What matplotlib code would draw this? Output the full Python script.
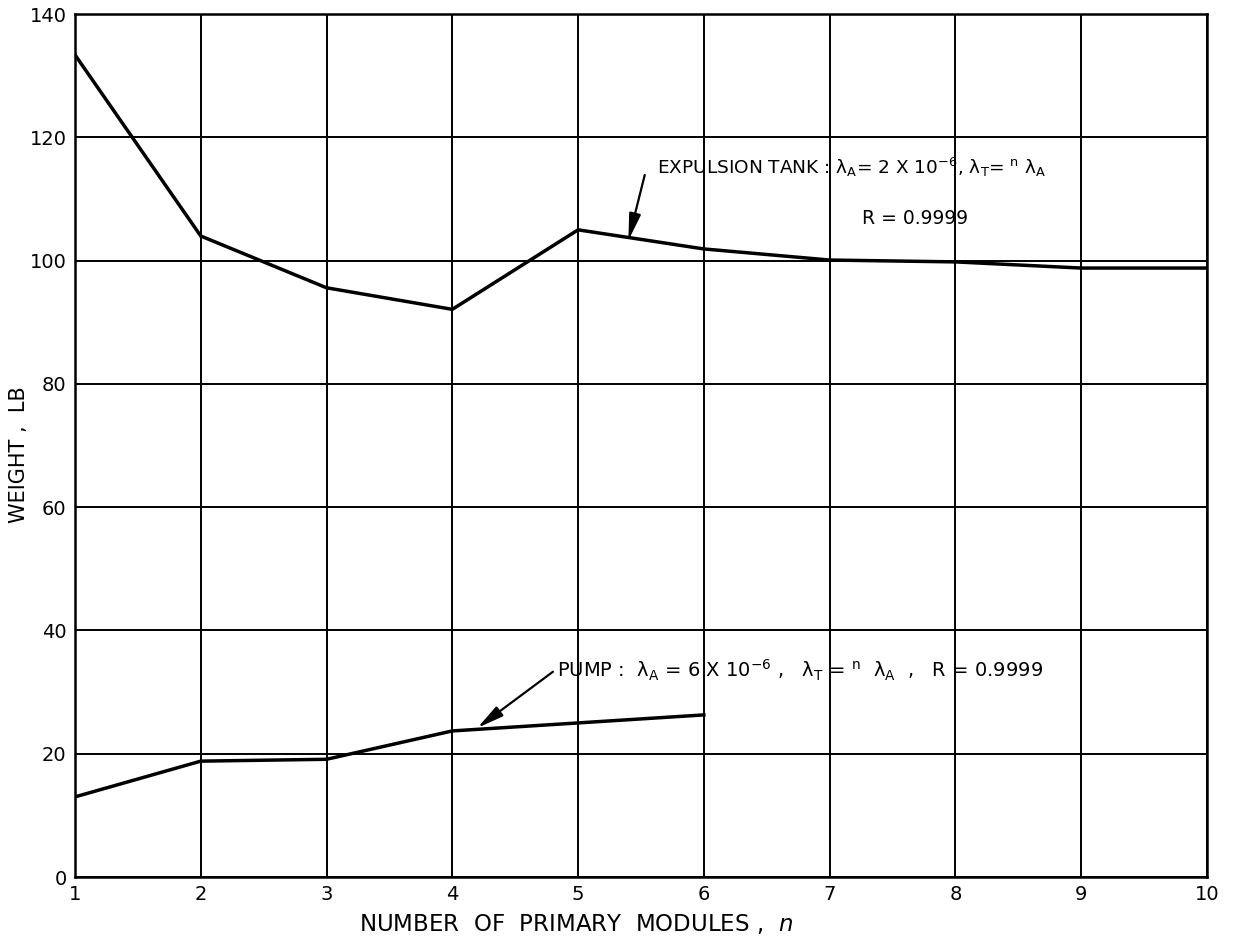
import matplotlib
matplotlib.use("Agg")
import matplotlib.pyplot as plt

# data
modules = [1, 2, 3, 4, 5, 6, 7, 8, 9, 10]
tank_weight = [133.4, 104.0, 95.6, 92.1, 105.0, 101.9, 100.1, 99.8, 98.8, 98.8]
pump_modules = [1, 2, 3, 4, 5, 6]
pump_weight = [13.0, 18.8, 19.1, 23.7, 25.0, 26.3]

X_TICKS = list(range(1, 11))
Y_TICKS = list(range(0, 141, 20))

plt.rcParams.update(
    {
        "font.family": "DejaVu Sans",
        "mathtext.fontset": "dejavusans",
        "font.size": 13,
    }
)

ARROW = dict(arrowstyle="-|>,head_length=1.0,head_width=0.22", color="black",
             lw=1.6, mutation_scale=16, shrinkA=0, shrinkB=0)

fig = plt.figure(figsize=(12.35, 9.41), dpi=100)
ax = fig.add_axes([0.0607, 0.068, 0.9166, 0.917])

ax.plot(modules, tank_weight, color="black", lw=2.5, solid_joinstyle="miter")
ax.plot(pump_modules, pump_weight, color="black", lw=2.5, solid_joinstyle="miter")

ax.set_xlim(1, 10)
ax.set_ylim(0, 140)
ax.set_xticks(X_TICKS)
ax.set_yticks(Y_TICKS)
ax.grid(True, color="black", lw=1.4)
ax.set_axisbelow(True)
ax.tick_params(length=0, labelsize=14, pad=6)
for spine in ax.spines.values():
    spine.set_linewidth(1.8)

ax.set_xlabel("NUMBER  OF  PRIMARY  MODULES ,  $n$", fontsize=16.5)
ax.xaxis.set_label_coords(0.443, -0.040)
ax.set_ylabel("WEIGHT ,  LB", fontsize=15)
ax.yaxis.set_label_coords(-0.041, 0.49)

tank_label = ("EXPULSION TANK : λ$_{\\mathrm{A}}$= 2 X 10$^{-6}$, "
              "λ$_{\\mathrm{T}}$= $^{\\mathrm{n}}$ λ$_{\\mathrm{A}}$")
ax.text(5.63, 115.2, tank_label, ha="left", va="center", fontsize=13.3)
ax.annotate("", xy=(5.40, 103.3), xytext=(5.53, 113.9), arrowprops=ARROW)
ax.text(7.26, 106.9, "R = 0.9999", ha="left", va="center", fontsize=13.5)

pump_label = ("PUMP :  λ$_{\\mathrm{A}}$ = 6 X 10$^{-6}$ ,   "
              "λ$_{\\mathrm{T}}$ = $^{\\mathrm{n}}$  λ$_{\\mathrm{A}}$  ,   R = 0.9999")
ax.text(4.83, 33.6, pump_label, ha="left", va="center", fontsize=14)
ax.annotate("", xy=(4.20, 24.2), xytext=(4.80, 33.3), arrowprops=ARROW)

fig.savefig("out.png", dpi=100)
plt.close(fig)
